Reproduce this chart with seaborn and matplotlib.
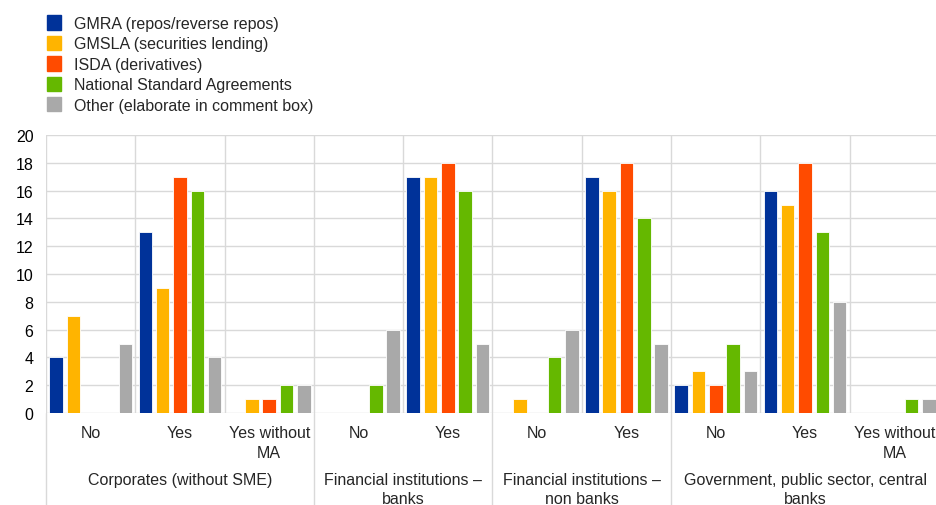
import matplotlib
matplotlib.use("Agg")
import matplotlib.pyplot as plt
import matplotlib.transforms as mtransforms
from matplotlib.patches import Patch
import seaborn as sns
import pandas as pd

groups = ["Corporates (without SME)", "Financial institutions –\nbanks",
          "Financial institutions –\nnon banks", "Government, public sector, central\nbanks"]
subcats = [["No", "Yes", "Yes without\nMA"], ["No", "Yes"], ["No", "Yes"], ["No", "Yes", "Yes without\nMA"]]
series = ["GMRA (repos/reverse repos)", "GMSLA (securities lending)", "ISDA (derivatives)",
          "National Standard Agreements", "Other (elaborate in comment box)"]
colors = ["#003299", "#FFB400", "#FF4B00", "#65B800", "#A9A9A9"]

gmra  = [4, 13, 0, 0, 17, 0, 17, 2, 16, 0]
gmsla = [7, 9, 1, 0, 17, 1, 16, 3, 15, 0]
isda  = [0, 17, 1, 0, 18, 0, 18, 2, 18, 0]
nsa   = [0, 16, 2, 2, 16, 4, 14, 5, 13, 1]
other = [5, 4, 2, 6, 5, 6, 5, 3, 8, 1]
values = [gmra, gmsla, isda, nsa, other]

keys, sublabels = [], []
for g, subs in zip(groups, subcats):
    for s in subs:
        keys.append(g + "|" + s)
        sublabels.append(s)

rows = []
for sname, vals in zip(series, values):
    for k, v in zip(keys, vals):
        rows.append({"key": k, "series": sname, "value": v})
df = pd.DataFrame(rows)

sns.set_theme(style="white")
plt.rcParams["font.family"] = ["Liberation Sans", "DejaVu Sans"]
FS = 11.5
plt.rcParams["font.size"] = FS

fig = plt.figure(figsize=(9.37, 5.06), dpi=100)
ax = fig.add_axes([46 / 937, 1 - 414 / 506, 893 / 937, 278 / 506])

sns.barplot(data=df, x="key", y="value", hue="series", order=keys, hue_order=series,
            palette=colors, width=0.97, gap=0.22, ax=ax, legend=False,
            edgecolor="white", linewidth=0.6, saturation=1)

ax.set_ylim(0, 20)
ax.set_xlim(-0.5, len(keys) - 0.5)
ax.set_yticks(range(0, 21, 2))
ax.tick_params(axis="y", length=0, pad=9, labelsize=FS, colors="#000000")
ax.set_xticks([])
ax.set_xlabel("")
ax.set_ylabel("")
for sp in ax.spines.values():
    sp.set_visible(False)

grid_c = "#d9d9d9"
for y in range(0, 21, 2):
    ax.axhline(y, color=grid_c, lw=1, zorder=0)
for i in range(len(keys) + 1):
    ax.axvline(i - 0.5, color=grid_c, lw=1, zorder=0)

trans = mtransforms.blended_transform_factory(ax.transData, ax.transAxes)
for i, s in enumerate(sublabels):
    ax.text(i, -0.042, s, transform=trans, ha="center", va="top", fontsize=FS,
            linespacing=1.45)

start = 0
bounds = [-0.5]
for g, subs in zip(groups, subcats):
    n = len(subs)
    center = start + (n - 1) / 2
    ax.text(center, -0.212, g, transform=trans, ha="center", va="top", fontsize=FS,
            linespacing=1.3)
    start += n
    bounds.append(start - 0.5)
for b in bounds[:-1]:
    ax.plot([b, b], [0, -0.34], transform=trans, color=grid_c, lw=1, clip_on=False)

handles = [Patch(facecolor=c, edgecolor=c, label=s) for c, s in zip(colors, series)]
fig.legend(handles=handles, loc="upper left", bbox_to_anchor=(41 / 937, 1 - 10 / 506),
           frameon=False, fontsize=FS, handlelength=0.85, handleheight=1.0,
           labelspacing=0.3, handletextpad=0.8, borderaxespad=0)

fig.savefig("out.png", dpi=100)
